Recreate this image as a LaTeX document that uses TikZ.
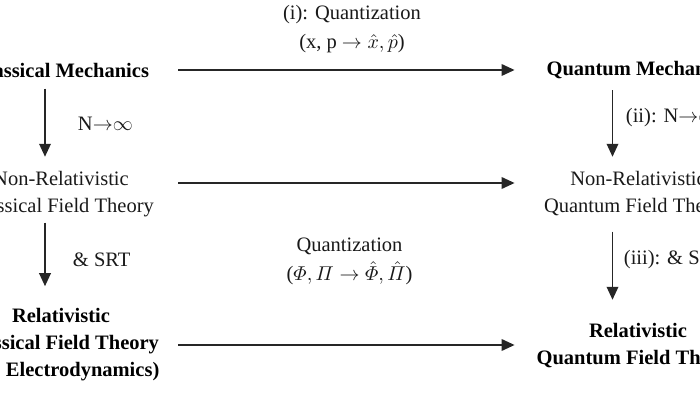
\documentclass[tikz,border=0pt]{standalone}
\usepackage{amsmath}
\usepackage{fontspec}
\setmainfont{Liberation Serif}
\usetikzlibrary{arrows.meta,positioning}

\begin{document}
\begin{tikzpicture}
      [x=0.5pt, y=-0.5pt,
      node style1/.style={align=center, inner sep=0pt, text=black, font=\fontsize{10.25}{13.5}\selectfont\bfseries},
      node style2/.style={align=center, inner sep=0pt, text=black!90, font=\fontsize{10.25}{13.5}\selectfont},
      left col/.style={minimum width=117pt},
      right col/.style={minimum width=123pt},
      label style/.style={align=center, inner sep=0pt, text=black!90, font=\fontsize{10.25}{14.5}\selectfont},
      edge style/.style={draw=black!85, line width=0.95pt, -{Triangle[length=6.5pt, width=5.75pt]}},
      ]

      \useasboundingbox (0,0) rectangle (700,400);
      \clip (0,0) rectangle (700,400);

      \node[node style1, left col] (cm) at (61,70) {Classical Mechanics};
      \node[node style1, right col] (qm) at (638,70) {Quantum Mechanics};
      \node[node style2, left col] (nrc) at (61,194) {Non-Relativistic\\Classical Field Theory};
      \node[node style2, right col] (nrq) at (638,194) {Non-Relativistic\\Quantum Field Theory};
      \node[node style1, left col] (rc) at (61,345) {Relativistic\\Classical Field Theory\\(e.g. Electrodynamics)};
      \node[node style1, right col] (rq) at (638,346) {Relativistic\\Quantum Field Theory};

      \draw[edge style] (cm.east) -- (cm.east -| qm.west)
        node[label style, midway, above=8.25pt, xshift=2.75pt] (quant1) {(i): Quantization\\(x, p $\to \hat{x}, \hat{p}$)};
      \draw[edge style] ([yshift=5.5pt]nrc.east) -- ([yshift=5.5pt]nrc.east -| nrq.west);
      \draw[edge style] (rc.east) -- (rc.east -| rq.west)
        node[label style, midway, above=29.75pt, xshift=1.5pt] (quant2) {Quantization\\($\varPhi, \varPi \to \hat{\varPhi}, \hat{\varPi}$)};

      \draw[edge style, shorten <=5.5pt, shorten >=7pt] ([xshift=-8pt]cm.south) -- ([xshift=-8pt]cm.south |- nrc.north)
        node[label style, midway, right=16pt] (lim1) {N$\mathord{\to}\infty$};
      \draw[edge style, shorten <=2.75pt, shorten >=11pt] ([xshift=-8pt]nrc.south) -- ([xshift=-8pt]nrc.south |- rc.north)
        node[label style, midway, right=13.5pt, yshift=1.4pt] (srt1) {\& SRT};
      \draw[edge style, shorten <=5.5pt, shorten >=7pt] ([xshift=-12.75pt]qm.south) -- ([xshift=-12.75pt]qm.south |- nrq.north)
        node[label style, midway, right=6.25pt, yshift=3.5pt] (lim2) {(ii): N$\mathord{\to}\infty$};
      \draw[edge style, shorten <=7.25pt, shorten >=11.5pt] ([xshift=-12.75pt]nrq.south) -- ([xshift=-12.75pt]nrq.south |- rq.north)
        node[label style, midway, right=5.25pt, yshift=5pt] (srt2) {(iii): \& SRT};
\end{tikzpicture}
\end{document}
